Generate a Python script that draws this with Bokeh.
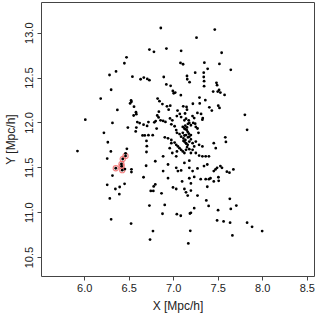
from bokeh.plotting import figure
from bokeh.models import FixedTicker, Range1d, NumeralTickFormatter
from bokeh.embed import file_html
from bokeh.resources import INLINE

# outer / scattered points
x_outer = [6.855, 7.461, 7.256, 6.727, 6.918, 6.778, 7.083, 7.538, 6.470, 6.446,
           7.076, 7.105, 7.344, 7.513, 7.381, 7.641, 6.352, 6.279, 7.241, 7.337,
           6.536, 6.664, 6.703, 6.628, 6.727, 6.888, 7.149, 7.152, 7.178, 7.337,
           7.341, 7.341, 6.917, 6.965, 7.480, 7.487, 6.297, 6.990, 7.017, 7.000,
           7.509, 7.494, 7.524, 7.443, 7.571, 7.080, 6.180, 6.521, 6.525, 6.510,
           6.819, 7.289, 7.355, 6.840, 7.292, 7.215, 6.554, 6.367, 6.873, 6.924,
           6.961, 7.107, 7.144, 7.400, 7.500, 7.514, 7.428, 6.576, 6.580, 6.550,
           6.833, 6.943, 7.043, 7.149, 7.068, 7.127, 7.266, 7.307, 7.799, 6.007,
           6.591, 6.815, 6.830, 6.958, 7.035, 7.083, 7.211, 7.230, 7.326, 6.312,
           6.617, 6.661, 6.716, 6.701, 6.782, 6.797, 6.485, 6.580, 6.573, 7.824,
           6.216, 6.650, 6.675, 6.716, 6.764, 6.694, 6.698, 6.808, 6.260, 7.472,
           6.294, 5.919, 6.474, 6.459, 6.694, 6.690, 6.253, 6.452, 6.525, 6.525,
           6.312, 6.253, 6.345, 6.393, 6.448, 6.389, 6.282, 6.297, 6.521, 6.661,
           6.793, 6.793, 6.775, 6.742, 6.771, 6.727, 6.899, 6.874, 6.767, 6.734,
           7.035, 7.079, 7.193, 7.182, 7.230, 7.186, 7.164, 7.366, 7.392, 7.498,
           7.630, 7.641, 7.703, 7.487, 7.560, 7.633, 7.659, 7.824, 7.880, 7.993]
y_outer = [13.058, 13.040, 12.950, 12.818, 12.829, 12.793, 12.804, 12.782, 12.731, 12.665,
           12.669, 12.654, 12.672, 12.658, 12.603, 12.592, 12.574, 12.534, 12.560, 12.560,
           12.516, 12.505, 12.490, 12.487, 12.476, 12.512, 12.523, 12.487, 12.454, 12.512,
           12.465, 12.410, 12.429, 12.414, 12.447, 12.421, 12.370, 12.356, 12.338, 12.330,
           12.367, 12.349, 12.338, 12.349, 12.312, 12.309, 12.272, 12.250, 12.236, 12.218,
           12.272, 12.283, 12.254, 12.243, 12.218, 12.214, 12.181, 12.145, 12.210, 12.185,
           12.192, 12.185, 12.178, 12.174, 12.192, 12.167, 12.138, 12.119, 12.098, 12.083,
           12.126, 12.148, 12.138, 12.148, 12.101, 12.105, 12.112, 12.101, 12.090, 12.036,
           12.010, 12.083, 12.061, 12.050, 12.076, 12.065, 12.076, 12.054, 12.054, 12.000,
           11.999, 11.981, 12.010, 11.967, 12.007, 12.021, 11.948, 11.948, 11.905, 11.923,
           11.890, 11.861, 11.861, 11.864, 11.864, 11.800, 11.741, 11.937, 11.785, 11.719,
           11.683, 11.686, 11.712, 11.661, 11.676, 11.523, 11.603, 11.486, 11.483, 11.453,
           11.413, 11.311, 11.264, 11.286, 11.322, 11.206, 11.159, 10.926, 10.879, 11.395,
           11.573, 11.315, 11.293, 11.242, 11.242, 11.079, 11.086, 10.988, 10.795, 10.700,
           10.984, 10.966, 10.999, 10.991, 11.050, 10.798, 10.657, 11.137, 11.075, 11.028,
           11.155, 11.042, 11.079, 10.914, 10.903, 10.889, 10.747, 10.889, 10.842, 10.795]

# dense central clump
x_core = [6.852, 6.881, 6.907, 6.984, 7.138, 7.168, 7.120, 7.175, 7.193, 7.219,
          7.241, 7.322, 7.278, 7.248, 7.267, 6.973, 7.010, 7.028, 7.036, 7.065,
          7.083, 7.102, 7.109, 7.120, 7.131, 7.138, 7.138, 7.157, 7.175, 7.193,
          7.175, 7.146, 7.157, 7.120, 7.102, 7.193, 7.212, 7.230, 7.248, 7.285,
          7.322, 7.450, 7.579, 7.586, 6.900, 6.936, 6.973, 6.973, 7.010, 7.028,
          7.047, 7.065, 7.083, 7.102, 7.120, 7.138, 7.175, 7.193, 7.212, 7.248,
          7.285, 7.322, 7.359, 7.395, 7.036, 7.028, 6.955, 6.984, 6.881, 7.130,
          7.150, 7.160, 7.110, 7.140, 7.170, 7.120, 7.150, 7.130, 7.160]
y_core = [12.029, 12.022, 12.011, 12.029, 12.047, 12.029, 12.029, 12.000, 11.974, 12.000,
          11.992, 12.036, 11.890, 11.956, 11.938, 11.985, 11.963, 11.920, 11.890, 11.876,
          11.847, 11.890, 11.829, 11.792, 11.810, 11.865, 11.774, 11.756, 11.792, 11.818,
          11.847, 11.920, 11.901, 11.938, 11.956, 11.865, 11.774, 11.738, 11.792, 11.756,
          11.738, 11.774, 11.840, 11.789, 11.840, 11.829, 11.810, 11.774, 11.781, 11.756,
          11.738, 11.719, 11.700, 11.683, 11.665, 11.700, 11.708, 11.665, 11.700, 11.665,
          11.636, 11.628, 11.628, 11.628, 11.683, 11.628, 11.719, 11.665, 11.628, 11.930,
          11.950, 11.840, 11.800, 11.770, 11.880, 11.860, 11.730, 11.970, 11.990]

# lower-middle points
x_low = [6.936, 6.881, 7.028, 7.047, 7.083, 7.120, 7.175, 7.175, 7.212, 7.267,
         7.340, 7.377, 7.450, 7.469, 7.487, 7.524, 7.542, 7.597, 7.670, 6.936,
         7.094, 7.175, 7.230, 7.193, 7.303, 7.359, 7.395, 7.413, 7.450, 7.505,
         6.992, 7.028, 7.120, 7.138, 7.157, 7.193, 7.267, 7.377, 6.863, 7.502, 7.626]
y_low = [11.537, 11.464, 11.500, 11.464, 11.471, 11.555, 11.580, 11.500, 11.464, 11.493,
         11.519, 11.537, 11.464, 11.482, 11.500, 11.519, 11.500, 11.457, 11.482, 11.384,
         11.348, 11.384, 11.398, 11.326, 11.373, 11.373, 11.373, 11.384, 11.348, 11.355,
         11.282, 11.264, 11.264, 11.227, 11.191, 11.246, 11.191, 11.289, 11.216, 11.395, 11.446]

# highlighted (red-ringed) points
x_hi = [6.459, 6.427, 6.413, 6.415, 6.349, 6.422]
y_hi = [11.632, 11.598, 11.543, 11.518, 11.495, 11.474]

x_ticks = [6.0, 6.5, 7.0, 7.5, 8.0, 8.5]
y_ticks = [10.5, 11.0, 11.5, 12.0, 12.5, 13.0]

xs = x_outer + x_core + x_low + x_hi
ys = y_outer + y_core + y_low + y_hi

p = figure(width=316, height=316, output_backend="svg", toolbar_location=None,
           x_range=Range1d(5.515, 8.581), y_range=Range1d(10.289, 13.342),
           min_border_left=40, min_border_right=2, min_border_top=2, min_border_bottom=40)
p.grid.visible = False
p.outline_line_color = "#444444"
p.outline_line_width = 1
p.background_fill_color = "white"
p.border_fill_color = "white"

p.scatter(x_hi, y_hi, size=5.2, marker="circle", fill_color=None,
          line_color="#f06a6a", line_width=1.1, line_alpha=0.85)
p.scatter(xs, ys, size=2.8, marker="circle", fill_color="black", line_color=None)

for ax, ticks in ((p.xaxis[0], x_ticks), (p.yaxis[0], y_ticks)):
    ax.ticker = FixedTicker(ticks=ticks)
    ax.formatter = NumeralTickFormatter(format="0.0")
    ax.axis_line_color = None
    ax.major_tick_line_color = "#444444"
    ax.major_tick_out = 4
    ax.major_tick_in = 0
    ax.minor_tick_line_color = None
    ax.major_label_text_font = "Liberation Sans"
    ax.major_label_text_font_size = "11px"
    ax.major_label_text_color = "#222222"
    ax.axis_label_text_font = "Liberation Sans"
    ax.axis_label_text_font_size = "12px"
    ax.axis_label_text_font_style = "normal"
    ax.axis_label_text_color = "#222222"

p.xaxis.axis_label = "X [Mpc/h]"
p.yaxis.axis_label = "Y [Mpc/h]"
p.xaxis.major_label_standoff = 3
p.yaxis.major_label_standoff = 4
p.xaxis.axis_label_standoff = 4
p.yaxis.axis_label_standoff = 5
p.yaxis.major_label_orientation = "vertical"

open("out.html", "w").write(file_html(p, INLINE))
